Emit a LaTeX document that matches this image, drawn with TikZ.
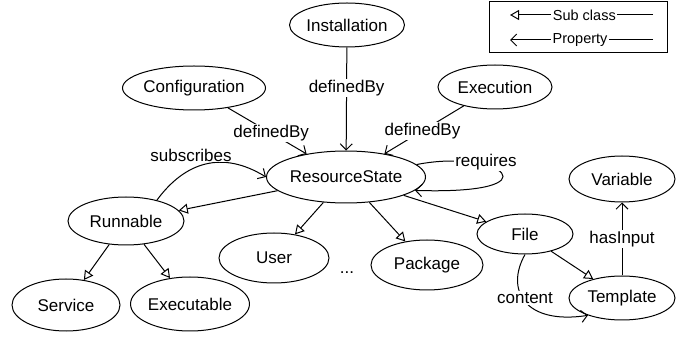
\documentclass[tikz,border=0pt]{standalone}
\usepackage{fontspec}
\setmainfont{Liberation Sans}
\usetikzlibrary{shapes.geometric,arrows.meta}

\tikzset{
  cls/.style={ellipse, draw, line width=1pt, inner sep=0pt,
              font=\fontsize{17}{20}\selectfont},
  lbl/.style={fill=white, inner sep=1pt, font=\fontsize{17}{20}\selectfont},
  legtxt/.style={fill=white, inner sep=1.5pt, font=\fontsize{14.5}{17}\selectfont},
  subcls/.style={line width=1pt, -{Triangle[open, length=9pt, width=10pt]}},
  prop/.style={line width=1pt, -{Straight Barb[length=6pt, width=12pt]}},
}

\begin{document}
\begin{tikzpicture}[x=1pt, y=-1pt]
\useasboundingbox (0,0) rectangle (686,339);

% classes
\node[cls, minimum width=110pt, minimum height=44pt] (inst) at (347,25)  {Installation};
\node[cls, minimum width=126pt, minimum height=44pt] (conf) at (194,88)  {Configuration};
\node[cls, minimum width=114pt, minimum height=44pt] (exec) at (495,87)  {Execution};
\node[cls, minimum width=158pt, minimum height=52pt] (rs)   at (346,177) {ResourceState};
\node[cls, minimum width=116pt, minimum height=48pt] (run)  at (126,221) {Runnable};
\node[cls, minimum width=110pt, minimum height=50pt] (user) at (274,258) {User};
\node[cls, minimum width=112pt, minimum height=50pt] (pkg)  at (427,265) {Package};
\node[cls, minimum width=96pt,  minimum height=40pt] (file) at (525,234) {File};
\node[cls, minimum width=106pt, minimum height=46pt] (var)  at (622,179) {Variable};
\node[cls, minimum width=106pt, minimum height=44pt] (tmpl) at (622,298) {Template};
\node[cls, minimum width=108pt, minimum height=52pt] (serv) at (66,305)  {Service};
\node[cls, minimum width=110pt, minimum height=54pt] (exe)  at (190,304) {Executable};
\node[font=\fontsize{17}{20}\selectfont] (more) at (347,273) {...};

% subclass relations
\draw[subcls] (rs) -- (run);
\draw[subcls] (rs) -- (user);
\draw[subcls] (rs) -- (pkg);
\draw[subcls] (rs) -- (file);
\draw[subcls] (run) -- (serv);
\draw[subcls] (run) -- (exe);
\draw[subcls] (file) -- (tmpl);

% properties
\draw[prop] (inst) -- node[lbl, pos=0.39] (lb1) {definedBy} (rs);
\draw[prop] (conf) -- node[lbl, pos=0.55] (lb2) {definedBy} (rs);
\draw[prop] (exec) -- node[lbl, pos=0.52] (lb3) {definedBy} (rs);
\draw[prop] (tmpl) -- node[lbl, pos=0.5] (lb4) {hasInput} (var);

\draw[prop] (run.34) .. controls (185,162) and (222,150) .. (rs.west);
\node[lbl] (lb5) at (191,155) {subscribes};

\draw[prop] (rs.10) .. controls (500,148) and (560,195) .. (rs.-11);
\node[lbl] (lb6) at (486,162) {requires};

\draw[prop] (file.south) .. controls (505,290) and (525,325) .. (tmpl.207);
\node[lbl] (lb7) at (525,298) {content};

% legend
\draw[line width=1pt] (489,2) rectangle (667,53);
\coordinate (l1a) at (653,15);
\coordinate (l1b) at (510,15);
\coordinate (l2a) at (653,40);
\coordinate (l2b) at (510,40);
\draw[subcls] (l1a) -- node[legtxt, pos=0.48] (lg1) {Sub class} (l1b);
\draw[prop] (l2a) -- node[legtxt, pos=0.51] (lg2) {Property} (l2b);
\end{tikzpicture}
\end{document}
